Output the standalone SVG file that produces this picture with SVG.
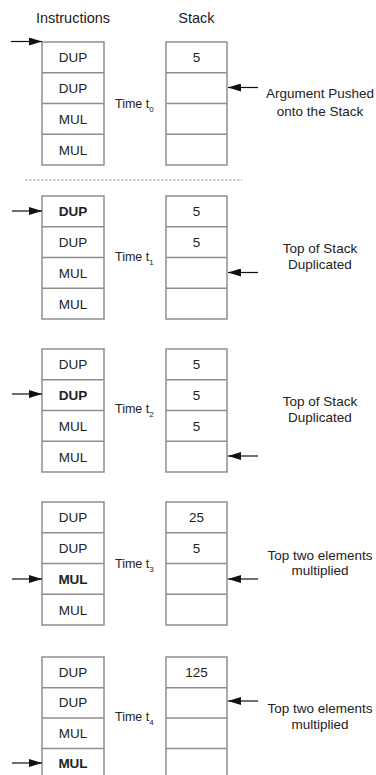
<svg xmlns="http://www.w3.org/2000/svg" width="376" height="775" viewBox="0 0 376 775">
<defs>
<marker id="ah" markerUnits="userSpaceOnUse" markerWidth="13" markerHeight="8" refX="13" refY="4" orient="auto">
<path d="M0,0 L13,4 L0,8 Z" fill="#111"/>
</marker>
<style>
.box{fill:#fff;stroke:#8e8e8e;stroke-width:1.5}
.sep{stroke:#8e8e8e;stroke-width:1.3}
.t{font-family:"Liberation Sans",Arial,sans-serif;font-size:13.5px;fill:#222;text-anchor:middle}
.b{font-weight:bold}
.h{font-family:"Liberation Sans",Arial,sans-serif;font-size:14.5px;fill:#222;text-anchor:middle}
.tm{font-family:"Liberation Sans",Arial,sans-serif;font-size:12.5px;fill:#222}
.sub{font-size:8px}
.lb{font-family:"Liberation Sans",Arial,sans-serif;font-size:13.5px;fill:#222;text-anchor:middle}
.arr{stroke:#111;stroke-width:1.2;fill:none;marker-end:url(#ah)}
.dash{stroke:#999;stroke-width:1.2;stroke-dasharray:2.5 1.5}
</style>
</defs>
<rect width="376" height="775" fill="#fff"/>
<g id="headers">
<text class="h" x="73" y="23">Instructions</text>
<text class="h" x="196.5" y="23">Stack</text>
</g>
<line class="dash" x1="25" y1="180" x2="242" y2="180"/>

<!-- t0 -->
<g id="instr-t0">
<rect class="box" x="42" y="42" width="62" height="123"/>
<line class="sep" x1="42" y1="72.75" x2="104" y2="72.75"/>
<line class="sep" x1="42" y1="103.5" x2="104" y2="103.5"/>
<line class="sep" x1="42" y1="134.25" x2="104" y2="134.25"/>
<text class="t" x="73" y="62">DUP</text>
<text class="t" x="73" y="93">DUP</text>
<text class="t" x="73" y="124">MUL</text>
<text class="t" x="73" y="155">MUL</text>
</g>
<g id="time-t0"><text class="tm" x="115" y="108">Time t<tspan class="sub" dy="4">0</tspan></text></g>
<g id="stack-t0">
<rect class="box" x="166" y="42" width="61" height="123"/>
<line class="sep" x1="166" y1="72.75" x2="227" y2="72.75"/>
<line class="sep" x1="166" y1="103.5" x2="227" y2="103.5"/>
<line class="sep" x1="166" y1="134.25" x2="227" y2="134.25"/>
<text class="t" x="196.5" y="62">5</text>
</g>
<g id="label-t0">
<text class="lb" x="320" y="98">Argument Pushed</text>
<text class="lb" x="320" y="116">onto the Stack</text>
</g>

<!-- t1 -->
<g id="instr-t1">
<rect class="box" x="42" y="196" width="62" height="123"/>
<line class="sep" x1="42" y1="226.75" x2="104" y2="226.75"/>
<line class="sep" x1="42" y1="257.5" x2="104" y2="257.5"/>
<line class="sep" x1="42" y1="288.25" x2="104" y2="288.25"/>
<text class="t b" x="73" y="216">DUP</text>
<text class="t" x="73" y="247">DUP</text>
<text class="t" x="73" y="278">MUL</text>
<text class="t" x="73" y="309">MUL</text>
</g>
<g id="time-t1"><text class="tm" x="115" y="261">Time t<tspan class="sub" dy="4">1</tspan></text></g>
<g id="stack-t1">
<rect class="box" x="166" y="196" width="61" height="123"/>
<line class="sep" x1="166" y1="226.75" x2="227" y2="226.75"/>
<line class="sep" x1="166" y1="257.5" x2="227" y2="257.5"/>
<line class="sep" x1="166" y1="288.25" x2="227" y2="288.25"/>
<text class="t" x="196.5" y="216">5</text>
<text class="t" x="196.5" y="247">5</text>
</g>
<g id="label-t1">
<text class="lb" x="320" y="253">Top of Stack</text>
<text class="lb" x="320" y="269">Duplicated</text>
</g>

<!-- t2 -->
<g id="instr-t2">
<rect class="box" x="42" y="349" width="62" height="123"/>
<line class="sep" x1="42" y1="379.75" x2="104" y2="379.75"/>
<line class="sep" x1="42" y1="410.5" x2="104" y2="410.5"/>
<line class="sep" x1="42" y1="441.25" x2="104" y2="441.25"/>
<text class="t" x="73" y="369">DUP</text>
<text class="t b" x="73" y="400">DUP</text>
<text class="t" x="73" y="431">MUL</text>
<text class="t" x="73" y="462">MUL</text>
</g>
<g id="time-t2"><text class="tm" x="115" y="413">Time t<tspan class="sub" dy="4">2</tspan></text></g>
<g id="stack-t2">
<rect class="box" x="166" y="349" width="61" height="123"/>
<line class="sep" x1="166" y1="379.75" x2="227" y2="379.75"/>
<line class="sep" x1="166" y1="410.5" x2="227" y2="410.5"/>
<line class="sep" x1="166" y1="441.25" x2="227" y2="441.25"/>
<text class="t" x="196.5" y="369">5</text>
<text class="t" x="196.5" y="400">5</text>
<text class="t" x="196.5" y="431">5</text>
</g>
<g id="label-t2">
<text class="lb" x="320" y="406">Top of Stack</text>
<text class="lb" x="320" y="422">Duplicated</text>
</g>

<!-- t3 -->
<g id="instr-t3">
<rect class="box" x="42" y="502" width="62" height="123"/>
<line class="sep" x1="42" y1="532.75" x2="104" y2="532.75"/>
<line class="sep" x1="42" y1="563.5" x2="104" y2="563.5"/>
<line class="sep" x1="42" y1="594.25" x2="104" y2="594.25"/>
<text class="t" x="73" y="522">DUP</text>
<text class="t" x="73" y="553">DUP</text>
<text class="t b" x="73" y="584">MUL</text>
<text class="t" x="73" y="615">MUL</text>
</g>
<g id="time-t3"><text class="tm" x="115" y="568">Time t<tspan class="sub" dy="4">3</tspan></text></g>
<g id="stack-t3">
<rect class="box" x="166" y="502" width="61" height="123"/>
<line class="sep" x1="166" y1="532.75" x2="227" y2="532.75"/>
<line class="sep" x1="166" y1="563.5" x2="227" y2="563.5"/>
<line class="sep" x1="166" y1="594.25" x2="227" y2="594.25"/>
<text class="t" x="196.5" y="522">25</text>
<text class="t" x="196.5" y="553">5</text>
</g>
<g id="label-t3">
<text class="lb" x="320" y="560">Top two elements</text>
<text class="lb" x="320" y="575">multiplied</text>
</g>

<!-- t4 -->
<g id="instr-t4">
<rect class="box" x="42" y="657" width="62" height="123"/>
<line class="sep" x1="42" y1="687.75" x2="104" y2="687.75"/>
<line class="sep" x1="42" y1="718" x2="104" y2="718"/>
<line class="sep" x1="42" y1="748.5" x2="104" y2="748.5"/>
<text class="t" x="73" y="677">DUP</text>
<text class="t" x="73" y="707">DUP</text>
<text class="t" x="73" y="738">MUL</text>
<text class="t b" x="73" y="768">MUL</text>
</g>
<g id="time-t4"><text class="tm" x="115" y="721">Time t<tspan class="sub" dy="4">4</tspan></text></g>
<g id="stack-t4">
<rect class="box" x="166" y="657" width="61" height="123"/>
<line class="sep" x1="166" y1="687.75" x2="227" y2="687.75"/>
<line class="sep" x1="166" y1="718" x2="227" y2="718"/>
<line class="sep" x1="166" y1="748.5" x2="227" y2="748.5"/>
<text class="t" x="196.5" y="677">125</text>
</g>
<g id="label-t4">
<text class="lb" x="320" y="713">Top two elements</text>
<text class="lb" x="320" y="729">multiplied</text>
</g>

<g id="connectors">
<line class="arr" x1="11" y1="41.5" x2="42" y2="41.5"/>
<line class="arr" x1="258" y1="87.5" x2="228" y2="87.5"/>
<line class="arr" x1="12" y1="211" x2="42" y2="211"/>
<line class="arr" x1="258" y1="272.5" x2="228" y2="272.5"/>
<line class="arr" x1="12" y1="394" x2="42" y2="394"/>
<line class="arr" x1="258" y1="456" x2="228" y2="456"/>
<line class="arr" x1="12" y1="579" x2="42" y2="579"/>
<line class="arr" x1="258" y1="579" x2="228" y2="579"/>
<line class="arr" x1="12" y1="763" x2="42" y2="763"/>
<line class="arr" x1="258" y1="701" x2="228" y2="701"/>
</g>
</svg>
